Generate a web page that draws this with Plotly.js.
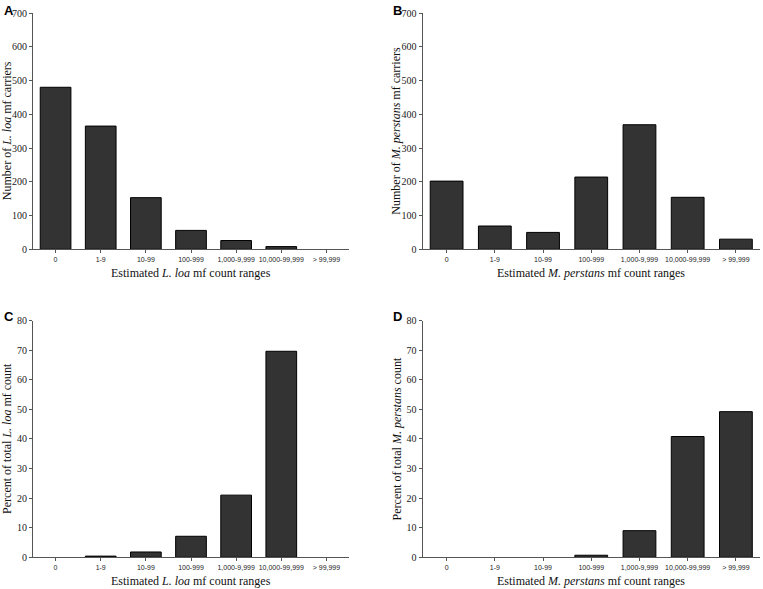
<!DOCTYPE html>
<html>
<head>
<meta charset="utf-8">
<script src="https://cdn.plot.ly/plotly-3.0.1.min.js"></script>
<style>
html, body { margin: 0; padding: 0; background: #fff; }
#chart { width: 763px; height: 589px; }
</style>
</head>
<body>
<div id="chart"></div>
<script>
// ---- Data ----
const categories = ["0", "1-9", "10-99", "100-999", "1,000-9,999", "10,000-99,999", "> 99,999"];
const loaCarriers = [480, 365, 153, 56, 26, 8, 0];
const perstansCarriers = [202, 69, 50, 214, 369, 154, 30];
const loaPercent = [0, 0.4, 1.8, 7.1, 21.0, 69.6, 0];
const perstansPercent = [0, 0, 0, 0.7, 9.0, 40.8, 49.2];
const panelLetters = ["A", "B", "C", "D"];
const yTitles = [
  "Number of <i>L. loa</i> mf carriers",
  "Number of <i>M. perstans</i> mf carriers",
  "Percent of total <i>L. loa</i> mf count",
  "Percent of total <i>M. perstans</i> count"
];
const xTitles = [
  "Estimated <i>L. loa</i> mf count ranges",
  "Estimated <i>M. perstans</i> mf count ranges",
  "Estimated <i>L. loa</i> mf count ranges",
  "Estimated <i>M. perstans</i> mf count ranges"
];

// ---- Layout geometry ----
const W = 763, H = 589;
const SERIF = "Liberation Serif";
const SANS = "Liberation Sans";
const colsPx = [[33, 349], [422.5, 760]];
const rowsPx = [[13, 249.3], [320.5, 557.3]];

const seriesList = [loaCarriers, perstansCarriers, loaPercent, perstansPercent];
const yRanges = [[0, 700], [0, 700], [0, 80], [0, 80]];
const yDticks = [100, 100, 10, 10];

const data = [];
const layout = {
  width: W, height: H,
  margin: {l: 0, r: 0, t: 0, b: 0},
  paper_bgcolor: "#fff", plot_bgcolor: "#fff",
  showlegend: false,
  annotations: [],
  font: {family: SERIF, color: "#000"}
};

for (let i = 0; i < 4; i++) {
  const col = i % 2, row = Math.floor(i / 2);
  const [x0, x1] = colsPx[col];
  const [yTop, yBot] = rowsPx[row];
  const sfx = i === 0 ? "" : String(i + 1);
  const vals = seriesList[i];
  data.push({
    type: "bar",
    x: categories,
    y: vals,
    xaxis: "x" + sfx,
    yaxis: "y" + sfx,
    marker: {
      color: "#333333",
      line: {color: "#000", width: vals.map(v => v > 0 ? 1 : 0)}
    },
    width: 0.68,
    hoverinfo: "skip"
  });
  layout["xaxis" + sfx] = {
    domain: [x0 / W, x1 / W],
    anchor: "y" + sfx,
    type: "category",
    categoryorder: "array",
    categoryarray: categories,
    range: [-0.5, 6.5],
    showline: true, linecolor: "#555", linewidth: 1,
    ticks: "outside", ticklen: 3, tickcolor: "#555", tickwidth: 1,
    tickfont: {family: SANS, size: 7, color: "#222"},
    showgrid: false, zeroline: false, fixedrange: true
  };
  layout["yaxis" + sfx] = {
    domain: [1 - yBot / H, 1 - yTop / H],
    anchor: "x" + sfx,
    range: yRanges[i],
    dtick: yDticks[i], tick0: 0,
    showline: true, linecolor: "#555", linewidth: 1,
    ticks: "outside", ticklen: 3, tickcolor: "#555", tickwidth: 1,
    tickfont: {family: SERIF, size: 10, color: "#222"},
    showgrid: false, zeroline: false, fixedrange: true
  };
  layout.annotations.push({
    xref: "paper", yref: "paper",
    x: (x0 + x1) / 2 / W, y: 1 - (yBot + 24) / H,
    text: xTitles[i], showarrow: false,
    xanchor: "center", yanchor: "middle",
    font: {family: SERIF, size: 12, color: "#111"}
  });
  layout.annotations.push({
    xref: "paper", yref: "paper",
    x: (x0 - 26) / W, y: 1 - (yTop + yBot) / 2 / H,
    text: yTitles[i], showarrow: false, textangle: -90,
    xanchor: "center", yanchor: "middle",
    font: {family: SERIF, size: 12, color: "#111"}
  });
  layout.annotations.push({
    xref: "paper", yref: "paper",
    x: (col === 0 ? 1.5 : 391) / W, y: 1 - (row === 0 ? 1.5 : 306.5) / H,
    text: "<b>" + panelLetters[i] + "</b>", showarrow: false,
    xanchor: "left", yanchor: "top",
    font: {family: SANS, size: 13, color: "#000"}
  });
}

Plotly.newPlot("chart", data, layout, {staticPlot: true, displayModeBar: false});
</script>
</body>
</html>
